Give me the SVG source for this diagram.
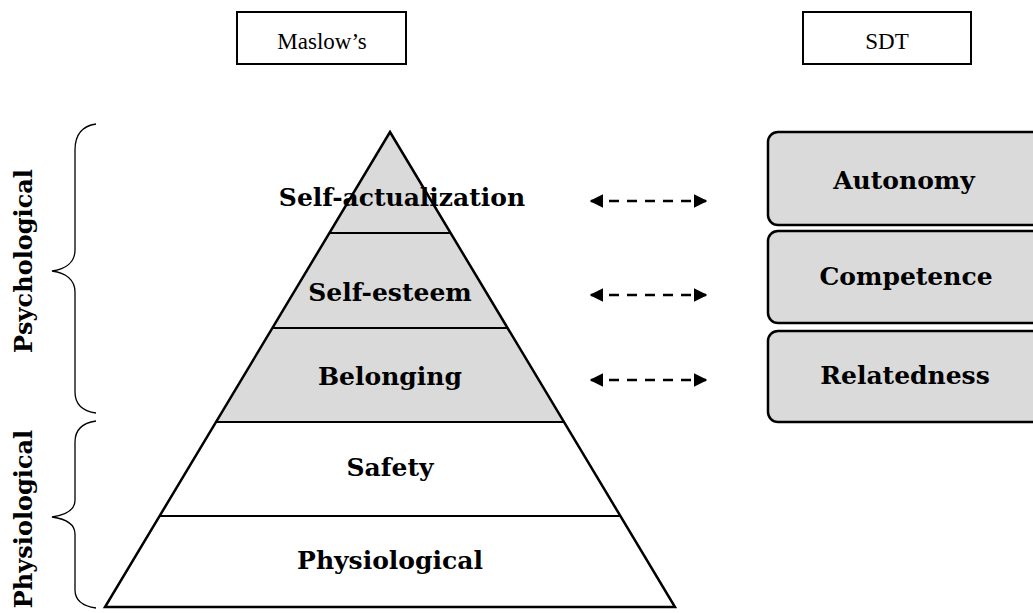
<svg xmlns="http://www.w3.org/2000/svg" width="1033" height="613" viewBox="0 0 1033 613">
  <style>
    .lbl { font-family: "DejaVu Serif", "Liberation Serif", serif; font-weight: bold; font-size: 25px; fill: #000; text-anchor: middle; }
    .side { font-size: 24px; }
    .hdr { font-family: "Liberation Serif", "DejaVu Serif", serif; font-size: 23px; fill: #000; text-anchor: middle; }
    .box { fill: #fff; stroke: #000; stroke-width: 2; }
    .sdt { fill: #dadada; stroke: #000; stroke-width: 2.5; }
    .layer { stroke: #000; stroke-width: 2; }
    .brace { fill: none; stroke: #000; stroke-width: 1.3; }
    .link { stroke: #000; stroke-width: 2.5; stroke-dasharray: 10 8; fill: none; }
  </style>
  <defs>
    <marker id="head" viewBox="0 0 10 10" refX="9" refY="5" markerWidth="5.5" markerHeight="5.5" orient="auto-start-reverse" markerUnits="strokeWidth">
      <path d="M0,0 L10,5 L0,10 Z" fill="#000"/>
    </marker>
  </defs>
  <rect width="1033" height="613" fill="#fff"/>

  <!-- column headers -->
  <g id="hdr-maslow">
    <rect class="box" x="237" y="12" width="169" height="52"/>
    <text class="hdr" x="322" y="49">Maslow’s</text>
  </g>
  <g id="hdr-sdt">
    <rect class="box" x="803" y="12" width="168" height="52"/>
    <text class="hdr" x="887" y="49">SDT</text>
  </g>

  <!-- pyramid: apex (390,132), base 105..675 at y=607 -->
  <g id="pyramid">
    <polygon points="390,132 216,422 564,422" fill="#dadada"/>
    <line class="layer" x1="329.5" y1="233" x2="450.5" y2="233"/>
    <line class="layer" x1="272.5" y1="328" x2="507.5" y2="328"/>
    <line class="layer" x1="216" y1="422" x2="564" y2="422"/>
    <line class="layer" x1="159.5" y1="516" x2="620.5" y2="516"/>
    <polygon points="390,132 675,607 105,607" fill="none" stroke="#000" stroke-width="2.5"/>
  </g>
  <g id="lvl-self-actualization"><text class="lbl" x="402" y="206">Self-actualization</text></g>
  <g id="lvl-self-esteem"><text class="lbl" x="390" y="301">Self-esteem</text></g>
  <g id="lvl-belonging"><text class="lbl" x="390" y="385">Belonging</text></g>
  <g id="lvl-safety"><text class="lbl" x="390" y="476">Safety</text></g>
  <g id="lvl-physiological"><text class="lbl" x="390" y="569">Physiological</text></g>

  <!-- SDT needs -->
  <g id="sdt-autonomy">
    <rect class="sdt" x="768" y="132" width="275" height="93" rx="10"/>
    <text class="lbl" x="904" y="189">Autonomy</text>
  </g>
  <g id="sdt-competence">
    <rect class="sdt" x="768" y="231" width="275" height="92" rx="10"/>
    <text class="lbl" x="906" y="285">Competence</text>
  </g>
  <g id="sdt-relatedness">
    <rect class="sdt" x="768" y="331" width="275" height="91" rx="10"/>
    <text class="lbl" x="905" y="384">Relatedness</text>
  </g>

  <!-- correspondences -->
  <g id="connectors">
    <line class="link" x1="591" y1="201" x2="706" y2="201" marker-start="url(#head)" marker-end="url(#head)"/>
    <line class="link" x1="591" y1="295" x2="706" y2="295" marker-start="url(#head)" marker-end="url(#head)"/>
    <line class="link" x1="591" y1="380" x2="706" y2="380" marker-start="url(#head)" marker-end="url(#head)"/>
  </g>

  <!-- groupings -->
  <g id="grp-psychological">
    <path class="brace" d="M96,124 C82,126 75,134 75,150 L75,250 C75,262 66,269 52,271 C66,273 75,280 75,292 L75,392 C75,404 82,411 96,413"/>
    <text class="lbl side" transform="translate(32,261) rotate(-90)">Psychological</text>
  </g>
  <g id="grp-physiological">
    <path class="brace" d="M96,421 C82,423 75,430 75,442 L75,500 C75,510 66,515 52,517 C66,519 75,524 75,534 L75,590 C75,600 82,606 96,608"/>
    <text class="lbl side" transform="translate(32,519) rotate(-90)">Physiological</text>
  </g>
</svg>
